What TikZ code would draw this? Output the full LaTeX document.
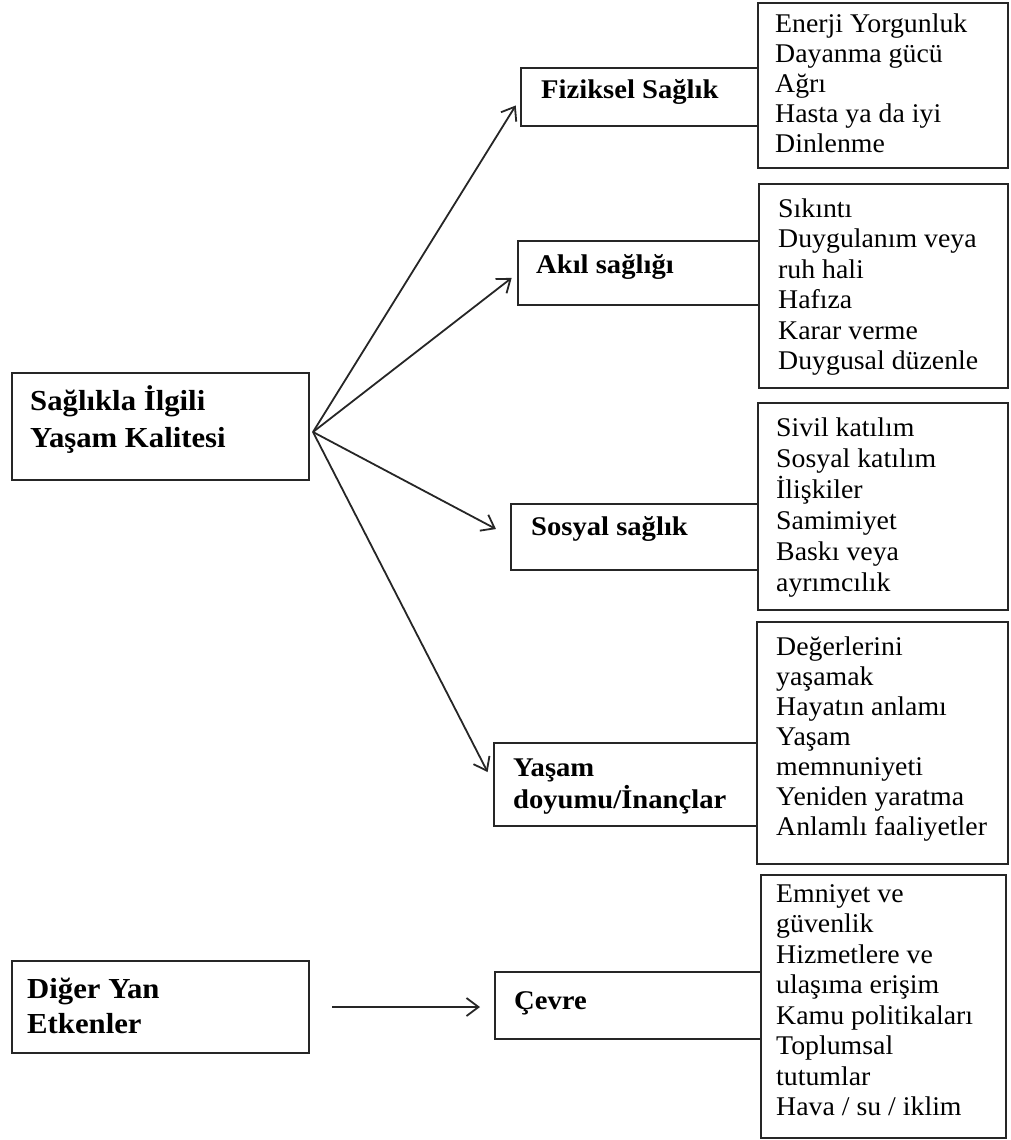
\documentclass[tikz,border=0pt]{standalone}
\usepackage{fontspec}
\setmainfont{Liberation Serif}[FakeStretch=1.03]
\newfontfamily\labelfont{Liberation Serif}[FakeStretch=1.06]
\usetikzlibrary{arrows.meta}

% list of items set flush left, first baseline = node base
\newcommand\itemlist[2]{\parbox[t]{235pt}{\fontsize{27}{#1}\selectfont\raggedright #2}}
% bold label text
\newcommand\labellist[3]{\parbox[t]{250pt}{\labelfont\bfseries\fontsize{#1}{#2}\selectfont\raggedright #3}}

\tikzset{
  frame/.style={draw=black!85, line width=2pt, inner sep=0pt, outer sep=0pt, anchor=north west},
  words/.style={inner sep=0pt, anchor=base west, text=black},
  link/.style={draw=black!85, line width=1.8pt, -{Straight Barb[length=12pt,width=18pt,line width=1.8pt]}}
}

\begin{document}
\begin{tikzpicture}[x=1pt, y=-1pt]
\useasboundingbox (0,0) rectangle (1011,1140);

% ---- left-hand boxes
\node[frame, minimum width=297pt, minimum height=107pt] (main) at (12,373) {};
\node[words] (maint) at (30,410) {\labellist{29}{37}{Sağlıkla İlgili\\Yaşam Kalitesi}};

\node[frame, minimum width=297pt, minimum height=92pt] (dig) at (12,961) {};
\node[words] (digt) at (27,998) {\labellist{29}{35}{Diğer Yan\\Etkenler}};

% ---- domain boxes
\node[frame, minimum width=237pt, minimum height=58pt] (fiz) at (521,68) {};
\node[words] (fizt) at (541,98) {\labellist{27}{30}{Fiziksel Sağlık}};

\node[frame, minimum width=241pt, minimum height=64pt] (akil) at (518,241) {};
\node[words] (akilt) at (536,273) {\labellist{27}{30}{Akıl sağlığı}};

\node[frame, minimum width=247pt, minimum height=66pt] (sos) at (511,504) {};
\node[words] (sost) at (531,535) {\labellist{27}{30}{Sosyal sağlık}};

\node[frame, minimum width=263pt, minimum height=83pt] (yas) at (494,743) {};
\node[words] (yast) at (513,776) {\labellist{27}{32}{Yaşam\\doyumu/İnançlar}};

\node[frame, minimum width=266pt, minimum height=67pt] (cev) at (495,972) {};
\node[words] (cevt) at (514,1009) {\labellist{27}{30}{Çevre}};

% ---- item boxes
\node[frame, minimum width=250pt, minimum height=165pt] (d1) at (758,3) {};
\node[words] (d1t) at (775,33) {\itemlist{30}{Enerji Yorgunluk\\Dayanma gücü\\Ağrı\\Hasta ya da iyi\\Dinlenme}};

\node[frame, minimum width=249pt, minimum height=204pt] (d2) at (759,184) {};
\node[words] (d2t) at (778,217) {\itemlist{30.5}{Sıkıntı\\Duygulanım veya\\ruh hali\\Hafıza\\Karar verme\\Duygusal düzenle}};

\node[frame, minimum width=250pt, minimum height=207pt] (d3) at (758,403) {};
\node[words] (d3t) at (776,436) {\itemlist{31}{Sivil katılım\\Sosyal katılım\\İlişkiler\\Samimiyet\\Baskı veya\\ayrımcılık}};

\node[frame, minimum width=251pt, minimum height=242pt] (d4) at (757,622) {};
\node[words] (d4t) at (776,655) {\itemlist{30}{Değerlerini\\yaşamak\\Hayatın anlamı\\Yaşam\\memnuniyeti\\Yeniden yaratma\\Anlamlı faaliyetler}};

\node[frame, minimum width=245pt, minimum height=263pt] (d5) at (761,875) {};
\node[words] (d5t) at (776,902) {\itemlist{30.5}{Emniyet ve\\güvenlik\\Hizmetlere ve\\ulaşıma erişim\\Kamu politikaları\\Toplumsal\\tutumlar\\Hava / su / iklim}};

% ---- connectors
\coordinate (hub) at (313,432);
\draw[link, shorten >=10pt] (hub) -- (fiz.west);
\draw[link, shorten >=8pt] (hub) -- (akil.west);
\draw[link, shorten >=17pt] (hub) -- (sos.west);
\draw[link, shorten >=14pt] (hub) -- (yas.west);
\draw[link, shorten <=23pt, shorten >=15pt] (dig.east) -- (dig.east -| cev.west);
\end{tikzpicture}
\end{document}
